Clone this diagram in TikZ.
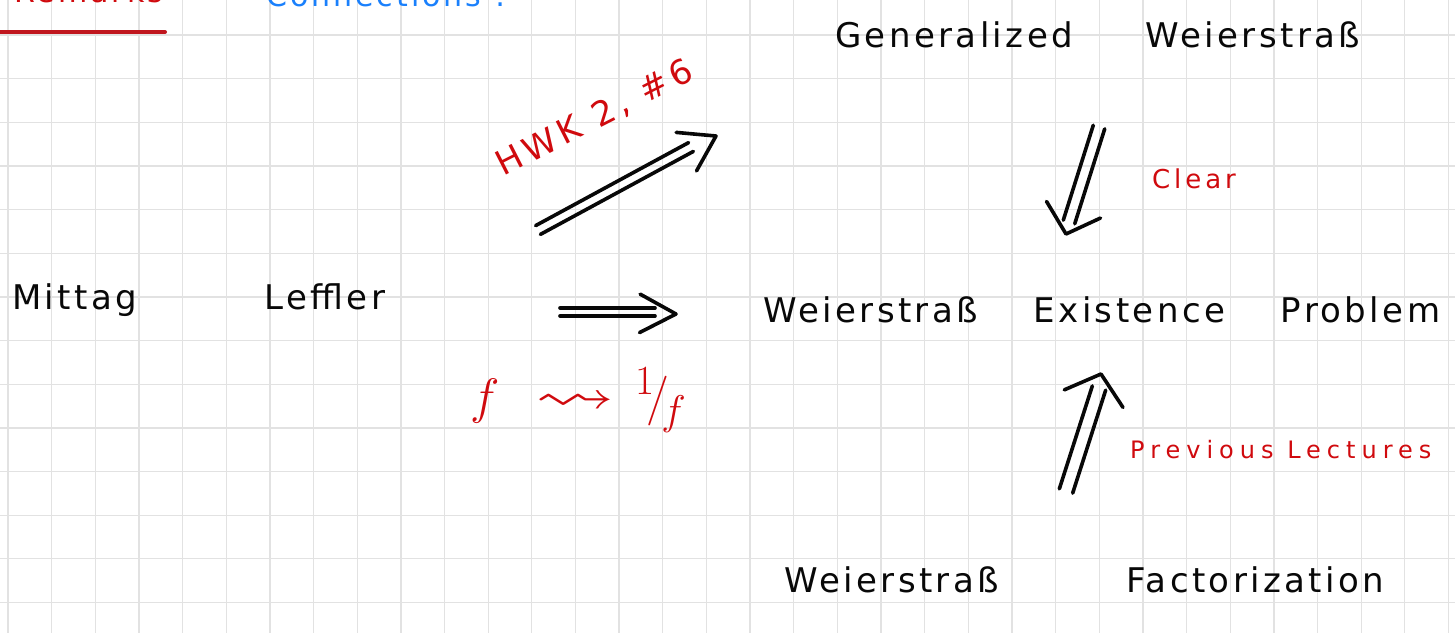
\documentclass[tikz,border=0pt]{standalone}
\usepackage{fontspec}
\usepackage{amssymb}
\usetikzlibrary{calc}
\newfontfamily\hand[LetterSpace=10]{DejaVu Sans}
\newfontfamily\handB[LetterSpace=15]{DejaVu Sans}
\newfontfamily\handC[LetterSpace=25]{DejaVu Sans}
\definecolor{gridc}{RGB}{226,226,226}
\definecolor{ink}{RGB}{8,8,8}
\definecolor{redink}{RGB}{208,10,14}
\definecolor{ulred}{RGB}{192,22,30}
\definecolor{blueink}{RGB}{26,128,252}
\newcommand\dblarrow[6]{%
  \draw[stroke] ($(#1)!#4!90:(#2)$) -- ($(#2)!#4!-90:(#1)$);
  \draw[stroke] ($(#1)!#4!-90:(#2)$) -- ($(#2)!#4!90:(#1)$);
  \draw[stroke] ($(#3)!#5!#6:(#1)$) -- (#3) -- ($(#3)!#5!-#6:(#1)$);
}
\begin{document}
\begin{tikzpicture}[x=1pt,y=-1pt,
  gridline/.style={draw=gridc, line width=1.3pt},
  stroke/.style={draw=ink, line width=3.6pt, line cap=round, line join=round},
  phrase/.style={inner sep=0pt, anchor=base west, text=ink, font=\hand\fontsize{34}{40}\selectfont},
  redlbl/.style={inner sep=0pt, anchor=base west, text=redink}]
\useasboundingbox (0,0) rectangle (1455,633);
\clip (0,0) rectangle (1455,633);
\fill[white] (0,0) rectangle (1455,633);
\foreach \i in {0,...,33} \draw[gridline] ({8+43.65*\i},0) -- ({8+43.65*\i},633);
\foreach \j in {0,...,13} \draw[gridline] (0,{35+43.65*\j}) -- (1455,{35+43.65*\j});

% cut-off header texts
\node[inner sep=0pt, anchor=base west, text=redink, font=\hand\fontsize{30}{36}\selectfont] (hdr) at (14,2) {Remarks};
\draw[draw=ulred, line width=4pt, line cap=round] (0,32) -- (165,32);
\node[inner sep=0pt, anchor=base west, text=blueink, font=\hand\fontsize{30}{36}\selectfont] (conn) at (266,6) {Connections\hspace{14pt}:};

% main statements
\node[phrase] (gw) at (835,47) {\makebox[525pt][l]{Generalized\hfill Weierstraß}};
\node[phrase] (ml) at (12,309) {\makebox[373pt][l]{Mittag\hfill Leffler}};
\node[phrase] (wep) at (763,322) {\makebox[677pt][l]{Weierstraß\hfill Existence\hfill Problem}};
\node[phrase] (wf) at (784,592) {\makebox[600pt][l]{Weierstraß\hfill Factorization}};

% red labels
\node[redlbl, font=\handB\fontsize{34}{40}\selectfont, rotate=27] (hwk) at (503,177) {HWK 2, \#6};
\node[redlbl, font=\handB\fontsize{26}{30}\selectfont] (clear) at (1152,188) {Clear};
\node[redlbl, font=\handC\fontsize{24}{28}\selectfont] (prev) at (1130,458) {Previous Lectures};
\node[redlbl] (ff) at (470,413)
  {\scalebox{2}{\fontsize{24.88}{28}\selectfont$f$\hspace{18pt}\scalebox{1.6}[1.1]{$\rightsquigarrow$}\hspace{10pt}$^{1}\!/\!_{f}$}};

% arrows
\coordinate (a1s) at (538,230); \coordinate (a1m) at (691,147); \coordinate (a1t) at (716,136);
\coordinate (a2s) at (560,312); \coordinate (a2m) at (655,312); \coordinate (a2t) at (676,314);
\coordinate (a3s) at (1099,127); \coordinate (a3m) at (1069,222); \coordinate (a3t) at (1066,234);
\coordinate (a4s) at (1066,491); \coordinate (a4m) at (1099,388); \coordinate (a4t) at (1101,374);
\dblarrow{a1s}{a1m}{a1t}{5pt}{40pt}{33}
\dblarrow{a2s}{a2m}{a2t}{4pt}{41pt}{28}
\dblarrow{a3s}{a3m}{a3t}{6pt}{38pt}{48}
\dblarrow{a4s}{a4m}{a4t}{7pt}{40pt}{50}
\end{tikzpicture}
\end{document}
